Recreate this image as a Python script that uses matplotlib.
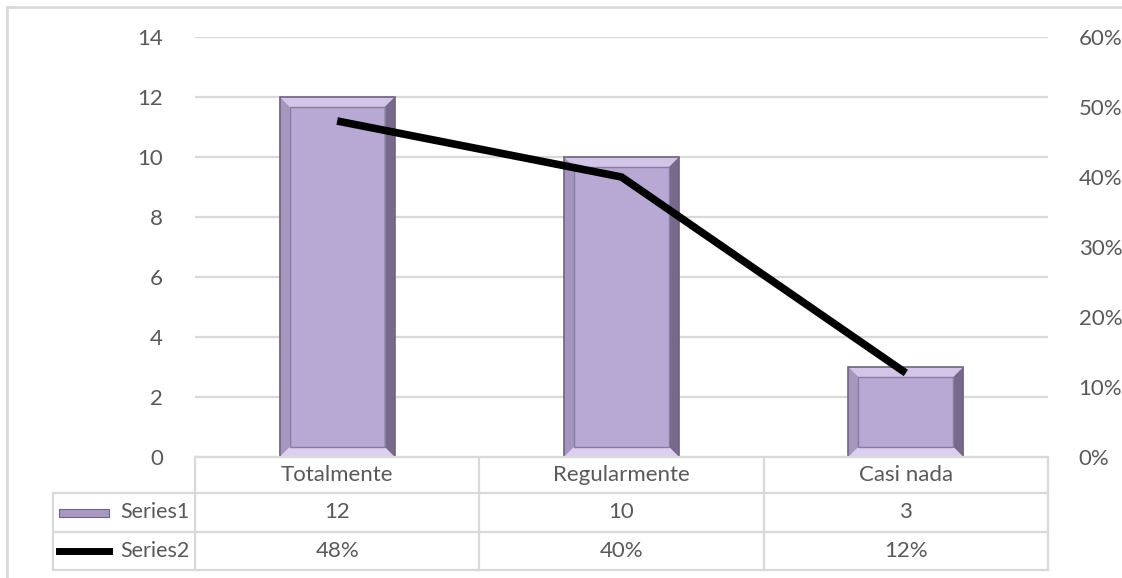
import matplotlib.pyplot as plt
from matplotlib.patches import Polygon, Rectangle
from matplotlib.lines import Line2D
import numpy as np

# data
categories = ['Totalmente', 'Regularmente', 'Casi nada']
series1 = [12, 10, 3]
series2 = [0.48, 0.40, 0.12]
series_names = ['Series1', 'Series2']

W, H = 1122, 578
plt.rcParams.update({'font.family': ['Lato', 'DejaVu Sans'], 'font.size': 16})
grey_txt = '#595959'
grid_c = '#d9d9d9'

fig = plt.figure(figsize=(W / 100, H / 100), dpi=100)


def fx(px):
    return px / W


def fy(py):
    return (H - py) / H


# plot area in pixels
x0, x1, ytop, ybot = 195, 1048, 37, 457
ax = fig.add_axes([fx(x0), fy(ybot), fx(x1 - x0), (ybot - ytop) / H])
ax.set_xlim(-0.5, 2.5)
ax.set_ylim(0, 14)
ax.set_yticks(np.arange(0, 15, 2))
ax.set_xticks([])
for s in ax.spines.values():
    s.set_visible(False)
ax.grid(axis='y', color=grid_c, lw=1.6)
ax.set_axisbelow(True)
ax.tick_params(axis='y', length=0, pad=23, labelcolor=grey_txt)

ax2 = ax.twinx()
ax2.set_ylim(0, 0.6)
ax2.set_yticks(np.arange(0, 0.61, 0.1))
ax2.set_yticklabels(['%d%%' % round(v * 100) for v in np.arange(0, 0.61, 0.1)])
for s in ax2.spines.values():
    s.set_visible(False)
ax2.tick_params(axis='y', length=0, pad=22, labelcolor=grey_txt)

# bevelled bars
xpos = np.arange(len(categories))
bw = 0.405
px_x = (x1 - x0) / 3.0
px_y = (ybot - ytop) / 14.0
bev = 10
dx = bev / px_x
dy = bev / px_y
for x, v in zip(xpos, series1):
    l, r, b, t = x - bw / 2, x + bw / 2, 0, v
    il, ir, ib, it = l + dx, r - dx, b + dy, t - dy
    ax.add_patch(Rectangle((l, b), bw, v, fc='#b8a8d4', ec='none', zorder=2))
    ax.add_patch(Polygon([(l, t), (r, t), (ir, it), (il, it)], fc='#d2c5e8', ec='none', zorder=3))
    ax.add_patch(Polygon([(l, b), (l, t), (il, it), (il, ib)], fc='#a596bd', ec='none', zorder=3))
    ax.add_patch(Polygon([(r, b), (r, t), (ir, it), (ir, ib)], fc='#76698b', ec='none', zorder=3))
    ax.add_patch(Polygon([(l, b), (r, b), (ir, ib), (il, ib)], fc='#dcd0f0', ec='none', zorder=3))
    ax.add_patch(Rectangle((l, b), bw, v, fc='none', ec='#6f6381', lw=1.2, zorder=4))
    ax.add_patch(Rectangle((il, ib), ir - il, it - ib, fc='none', ec='#8a7c9f', lw=1.0, zorder=4))

ax2.plot(xpos, series2, color='black', lw=5.5, solid_capstyle='butt', zorder=5)

# chart border (cropped at right and bottom)
fig.add_artist(Line2D([fx(7), fx(W)], [fy(7), fy(7)], color=grid_c, lw=2))
fig.add_artist(Line2D([fx(7), fx(7)], [fy(7), fy(H)], color=grid_c, lw=2))

# data table
rows = [457, 493, 532, 570]
tl = 53
def hline(xa, xb, y):
    fig.add_artist(Line2D([fx(xa), fx(xb)], [fy(y), fy(y)], color=grid_c, lw=1.6))
def vline(x, ya, yb):
    fig.add_artist(Line2D([fx(x), fx(x)], [fy(ya), fy(yb)], color=grid_c, lw=1.6))

hline(x0, x1, rows[0])
for y in rows[1:]:
    hline(tl, x1, y)
vline(tl, rows[1], rows[3])
for i in range(4):
    vline(x0 + i * px_x, rows[0], rows[3])

centers = [(rows[i] + rows[i + 1]) / 2 for i in range(3)]
for i, c in enumerate(categories):
    cx = x0 + (i + 0.5) * px_x
    fig.text(fx(cx), fy(centers[0]), c, ha='center', va='center', color=grey_txt)
    fig.text(fx(cx), fy(centers[1]), str(series1[i]), ha='center', va='center', color=grey_txt)
    fig.text(fx(cx), fy(centers[2]), '%d%%' % round(series2[i] * 100), ha='center', va='center', color=grey_txt)

for i, name in enumerate(series_names):
    fig.text(fx(190), fy(centers[i + 1]), name, ha='right', va='center', color=grey_txt, fontsize=15.5)

# legend keys in the table
yk = centers[1]
fig.add_artist(Rectangle((fx(59), fy(yk + 4)), fx(50), 8 / H, fc='#a898c2', ec='#6f6381', lw=0.8))
fig.add_artist(Line2D([fx(59), fx(109)], [fy(centers[2])] * 2, color='black', lw=5))

fig.savefig('out.png', dpi=100)
